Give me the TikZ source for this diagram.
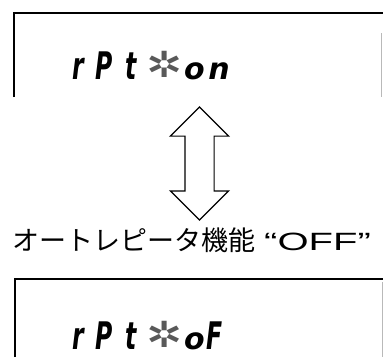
\documentclass[tikz,border=0pt]{standalone}
\usepackage{fontspec}
\usepackage{tikz}
\usetikzlibrary{positioning,shapes.arrows}
\newfontfamily\jpfont{Noto Sans CJK JP}
\newfontfamily\offfont[FakeStretch=1.6]{Liberation Sans}
\newfontfamily\segnarrow[FakeStretch=0.62,LetterSpace=32]{DejaVu Sans}
\newfontfamily\segwide[LetterSpace=12]{DejaVu Sans}
\newfontfamily\starfont[FakeStretch=1.2]{DejaVu Sans}

\begin{document}
\begin{tikzpicture}[
    x=1pt, y=-1pt,
    frame/.style={line width=2pt},
    edge/.style={gray!55, line width=0.8pt},
    seg/.style={inner sep=0, anchor=base west, font=\bfseries\itshape\fontsize{38}{38}\selectfont},
    blink/.style={inner sep=0, text=black!65, font=\starfont\fontsize{36}{36}\selectfont},
    swap/.style={double arrow, draw, line width=1.2pt, rotate=90, inner xsep=0, inner ysep=14pt,
        minimum height=113pt, minimum width=57pt, double arrow head extend=14.5pt}
]
\useasboundingbox (0,0) rectangle (383,357);

\draw[frame] (13.5,97) -- (13.5,13) -- (383,13);
\draw[edge] (381.5,33) -- (381.5,97);
\draw[frame] (14.5,357) -- (14.5,279) -- (383,279);
\draw[edge] (382,282) -- (382,357);

\node[seg] (rptOn) at (72,79) {\segnarrow rPt};
\node[blink] (starOn) at (164.5,64) {✲};
\node[seg] (valOn) at (184,79) {\segwide\fontsize{30}{30}\selectfont on};

\node[swap] (toggle) at (199.5,163.5) {};

\node[anchor=base west, inner sep=0] (mode) at (12,250)
    {{\jpfont\fontsize{27}{27}\selectfont オートレピータ機能}\hspace{9pt}{\offfont\fontsize{25}{25}\selectfont “OFF”}};

\node[seg] (rptOff) at (72,349) {\segnarrow rPt};
\node[blink] (starOff) at (164.5,334) {✲};
\node[seg] (valOff) at (184,349) {{\segwide\fontsize{30}{30}\selectfont o}\kern2pt{\segnarrow F}};
\end{tikzpicture}
\end{document}
